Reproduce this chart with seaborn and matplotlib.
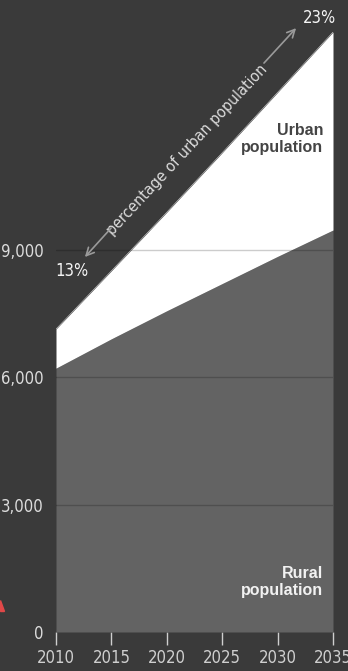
import matplotlib
matplotlib.use("Agg")
import matplotlib.pyplot as plt
import pandas as pd
import seaborn as sns
from matplotlib.patches import Polygon

# data (millions of people)
years = [2010, 2015, 2020, 2025, 2030, 2035]
rural = [6210, 6900, 7560, 8200, 8840, 9460]
total = [7130, 8500, 9880, 11280, 12700, 14120]
yticks = [0, 3000, 6000, 9000]
pct_start, pct_end = "13%", "23%"

BG = "#3a3a3a"
RURAL_C = "#636363"
TXT = "#dcdcdc"

df = pd.DataFrame({"year": years, "rural": rural, "total": total})

sns.set_theme(style="dark")
plt.rcParams["font.family"] = ["DejaVu Sans"]
plt.rcParams["font.stretch"] = "condensed"

fig = plt.figure(figsize=(3.48, 6.71), dpi=100, facecolor=BG)
ax = fig.add_axes([56 / 348, 1 - 632 / 671, 277 / 348, 600 / 671])
ax.set_facecolor(BG)

# stacked areas: rural at bottom, urban on top (hard edges like the original)
sns.lineplot(data=df, x="year", y="total", color="white", lw=0.3, ax=ax, zorder=0.5)
sns.lineplot(data=df, x="year", y="rural", color=RURAL_C, lw=0.3, ax=ax, zorder=0.5)
ax.fill_between(df["year"], 0, df["rural"], color=RURAL_C, lw=0,
                antialiased=False, zorder=1)
ax.fill_between(df["year"], df["rural"], df["total"], color="white", lw=0,
                antialiased=False, zorder=1)

# gridlines on top of the fills
for v in yticks[1:]:
    ax.axhline(v, color="black", alpha=0.2, lw=1.0, zorder=2)

ax.set_xlim(2010, 2035)
ax.set_ylim(0, 14120)
ax.set_xticks(years)
ax.set_yticks(yticks)
ax.set_yticklabels([f"{v:,}" for v in yticks])
ax.set_xlabel("")
ax.set_ylabel("")
ax.grid(False)
for s in ax.spines.values():
    s.set_visible(False)
ax.tick_params(axis="x", length=9, width=1, color="#cfcfcf", pad=3,
               labelsize=12, labelcolor="#cfcfcf", direction="out", bottom=True)
ax.tick_params(axis="y", length=0, pad=9, labelsize=12, labelcolor=TXT)

# labels
bold = dict(fontsize=11.5, fontweight="bold", ha="right", va="center",
            family=["Liberation Sans", "DejaVu Sans"], fontstretch="normal",
            linespacing=1.1, zorder=3)
ax.text(2034.1, 11600, "Urban\npopulation", color="#444444", **bold)
ax.text(2034.1, 1175, "Rural\npopulation", color="#f2f2f2", **bold)

ax.text(2011.44, 8494, pct_start, ha="center", va="center", fontsize=12,
        color="#f5f5f5", zorder=3)
ax.text(2033.74, 14447, pct_end, ha="center", va="center", fontsize=12,
        color="#f5f5f5", clip_on=False, zorder=3)

ax.text(2021.8, 11340, "percentage of urban population", rotation=46.9,
        rotation_mode="anchor", ha="center", va="center", fontsize=11.5,
        color=TXT, zorder=3)
arrow = dict(arrowstyle="->", color="#9a9a9a", lw=1.2, mutation_scale=14)
ax.annotate("", xy=(2012.44, 8776), xytext=(2015.14, 9553),
            arrowprops=arrow, annotation_clip=False, zorder=3)
ax.annotate("", xy=(2031.84, 14259), xytext=(2028.6, 13341),
            arrowprops=arrow, annotation_clip=False, zorder=3)

# small red marker cut off at the left edge
fig.patches.append(Polygon([(0, 1 - 600 / 671), (0, 1 - 611 / 671), (4 / 348, 1 - 611 / 671)],
                           closed=True, color="#e04848", transform=fig.transFigure,
                           figure=fig))

fig.savefig("out.png", dpi=100, facecolor=BG)
